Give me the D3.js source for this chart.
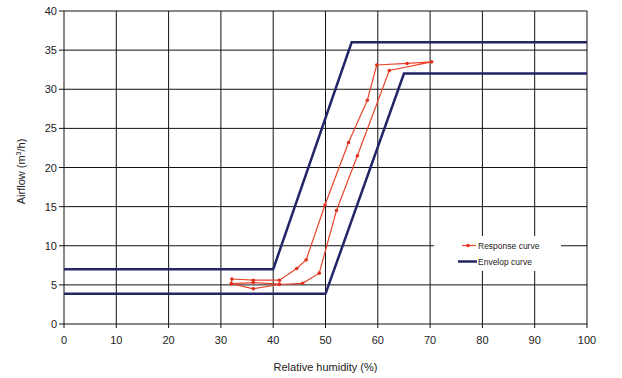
<!DOCTYPE html>
<meta charset="utf-8" />
<script src="https://d3js.org/d3.v7.js"></script>
<style>
  body { margin: 0; background: #fff; }
  text { font-family: "Liberation Sans", Arial, sans-serif; fill: #222; }
</style>
<div id="chart"></div>
<script>
  // humidity (%) vs airflow (m3/h)
  const responseX = [32.0, 36.2, 41.2, 45.6, 48.8, 52.1, 56.1, 62.2, 70.3, 65.6, 59.8, 58.0, 54.4, 49.9, 46.3, 44.5, 41.2, 36.2, 32.1, 32.0, 36.2, 41.2];
  const responseY = [5.15, 4.5, 5.05, 5.2, 6.5, 14.5, 21.5, 32.4, 33.5, 33.3, 33.1, 28.6, 23.2, 15.2, 8.2, 7.1, 5.6, 5.6, 5.75, 5.15, 5.3, 5.1];

  const upperX = [0, 40, 55, 100];
  const upperY = [7, 7, 36, 36];
  const lowerX = [0, 50, 65, 100];
  const lowerY = [3.85, 3.85, 32, 32];

  const xTicks = [0, 10, 20, 30, 40, 50, 60, 70, 80, 90, 100];
  const yTicks = [0, 5, 10, 15, 20, 25, 30, 35, 40];

  const width = 622;
  const height = 378;
  const margin = { top: 11, right: 35, bottom: 54, left: 64 };

  const svg = d3
    .select("#chart")
    .append("svg")
    .attr("width", width)
    .attr("height", height);

  const x = d3.scaleLinear().domain([0, 100]).range([margin.left, width - margin.right]);
  const y = d3.scaleLinear().domain([0, 40]).range([height - margin.bottom, margin.top]);

  // grid lines
  svg
    .append("g")
    .selectAll("line")
    .data(yTicks)
    .join("line")
    .attr("x1", margin.left - 5)
    .attr("x2", x(100))
    .attr("y1", (d) => y(d))
    .attr("y2", (d) => y(d))
    .attr("stroke", "#111")
    .attr("stroke-width", 1);

  svg
    .append("g")
    .selectAll("line")
    .data(xTicks)
    .join("line")
    .attr("x1", (d) => x(d))
    .attr("x2", (d) => x(d))
    .attr("y1", y(40))
    .attr("y2", y(0) + 4)
    .attr("stroke", "#111")
    .attr("stroke-width", 1);

  // tick labels
  svg
    .append("g")
    .selectAll("text")
    .data(yTicks)
    .join("text")
    .attr("x", margin.left - 7)
    .attr("y", (d) => y(d) + 4)
    .attr("text-anchor", "end")
    .style("font-size", "11px")
    .text((d) => d);

  svg
    .append("g")
    .selectAll("text")
    .data(xTicks)
    .join("text")
    .attr("x", (d) => x(d))
    .attr("y", y(0) + 20)
    .attr("text-anchor", "middle")
    .style("font-size", "11px")
    .text((d) => d);

  // axis titles
  svg
    .append("text")
    .attr("x", (x(0) + x(100)) / 2)
    .attr("y", 371)
    .attr("text-anchor", "middle")
    .style("font-size", "11px")
    .text("Relative humidity (%)");

  const yTitle = svg
    .append("text")
    .attr("transform", "translate(25," + (y(20) + 4) + ") rotate(-90)")
    .attr("text-anchor", "middle")
    .style("font-size", "11px");
  yTitle.append("tspan").text("Airflow (m");
  yTitle.append("tspan").attr("dy", -4).style("font-size", "7px").text("3");
  yTitle.append("tspan").attr("dy", 4).text("/h)");

  const line = d3
    .line()
    .x((d) => x(d[0]))
    .y((d) => y(d[1]));

  const upper = upperX.map((v, i) => [v, upperY[i]]);
  const lower = lowerX.map((v, i) => [v, lowerY[i]]);
  const response = responseX.map((v, i) => [v, responseY[i]]);

  // envelope curves
  [upper, lower].forEach((pts) => {
    svg
      .append("path")
      .datum(pts)
      .attr("d", line)
      .attr("fill", "none")
      .attr("stroke", "#232567")
      .attr("stroke-width", 2.5);
  });

  // response curve
  svg
    .append("path")
    .datum(response)
    .attr("d", line)
    .attr("fill", "none")
    .attr("stroke", "#e8452c")
    .attr("stroke-width", 1.2);

  svg
    .append("g")
    .selectAll("circle")
    .data(response)
    .join("circle")
    .attr("cx", (d) => x(d[0]))
    .attr("cy", (d) => y(d[1]))
    .attr("r", 1.8)
    .attr("fill", "#e0301e");

  // legend
  const legend = svg.append("g").attr("transform", "translate(434,236)");
  legend.append("rect").attr("width", 127).attr("height", 35).attr("fill", "#fff");

  legend
    .append("line")
    .attr("x1", 28)
    .attr("x2", 42)
    .attr("y1", 9.5)
    .attr("y2", 9.5)
    .attr("stroke", "#e8452c")
    .attr("stroke-width", 1.2);
  legend.append("circle").attr("cx", 34).attr("cy", 9.5).attr("r", 1.8).attr("fill", "#e0301e");
  legend
    .append("text")
    .attr("x", 44)
    .attr("y", 12.5)
    .style("font-size", "8.5px")
    .text("Response curve");

  legend
    .append("line")
    .attr("x1", 24)
    .attr("x2", 43)
    .attr("y1", 25.5)
    .attr("y2", 25.5)
    .attr("stroke", "#232567")
    .attr("stroke-width", 2.5);
  legend
    .append("text")
    .attr("x", 44)
    .attr("y", 28.5)
    .style("font-size", "8.5px")
    .text("Envelop curve");
</script>
